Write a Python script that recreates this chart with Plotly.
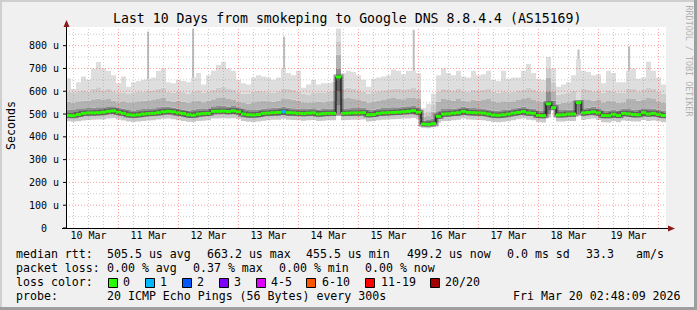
import plotly.graph_objects as go
import pandas as pd

# ---------------------------------------------------------------- data
title_text = "Last 10 Days from smokeping to Google DNS 8.8.4.4 (AS15169)"
start_time = "2026-03-10 03:00"      # first 2-hour consolidation bin
bin_freq = "2h"

# values in microseconds, one per 2-hour bin, 12 bins per row
rtt_max = [
    656, 610, 640, 665, 650, 700, 728, 700, 690, 670, 635, 665,
    620, 640, 645, 650, 655, 660, 690, 700, 640, 635, 650, 645,
    640, 660, 680, 630, 670, 690, 715, 730, 700, 690, 650, 635,
    630, 660, 670, 665, 660, 650, 660, 700, 680, 670, 690, 615,
    630, 650, 630, 635, 635, 640, 875, 680, 690, 685, 670, 650,
    620, 655, 660, 665, 670, 695, 690, 675, 690, 690, 680, 525,
    545, 590, 670, 700, 680, 670, 690, 665, 660, 690, 670, 675,
    690, 650, 645, 690, 655, 660, 660, 690, 720, 680, 655, 650,
    750, 700, 620, 630, 640, 670, 740, 690, 685, 670, 675, 635,
    690, 680, 640, 640, 690, 700, 655, 660, 730, 690, 660, 630,
]
rtt_upper2 = [
    598, 592, 600, 605, 598, 612, 618, 605, 610, 600, 592, 596,
    588, 595, 600, 598, 602, 604, 612, 615, 598, 594, 600, 596,
    590, 598, 605, 592, 600, 608, 615, 620, 610, 606, 596, 590,
    588, 598, 602, 600, 596, 594, 600, 610, 612, 608, 598, 590,
    586, 592, 596, 592, 598, 602, 820, 612, 615, 610, 604, 598,
    590, 596, 600, 604, 608, 612, 610, 606, 612, 614, 608, 505,
    512, 540, 600, 612, 606, 604, 610, 600, 598, 608, 604, 606,
    610, 598, 594, 600, 596, 598, 604, 608, 615, 606, 600, 598,
    700, 640, 585, 590, 594, 602, 560, 610, 606, 600, 604, 594,
    604, 600, 592, 594, 610, 612, 600, 606, 616, 610, 598, 590,
]
rtt_upper3 = [
    555, 550, 556, 560, 558, 565, 568, 562, 566, 560, 552, 556,
    548, 552, 556, 558, 560, 562, 566, 570, 560, 555, 558, 554,
    550, 556, 560, 552, 558, 565, 570, 574, 566, 562, 555, 548,
    546, 552, 556, 558, 556, 555, 560, 566, 568, 564, 558, 552,
    548, 552, 555, 552, 556, 560, 760, 566, 570, 566, 562, 558,
    550, 555, 560, 562, 566, 570, 568, 565, 570, 572, 566, 488,
    492, 510, 555, 566, 562, 560, 566, 558, 556, 564, 560, 562,
    566, 556, 552, 556, 555, 556, 562, 566, 570, 562, 556, 554,
    660, 600, 545, 550, 552, 558, 556, 565, 562, 560, 562, 552,
    560, 556, 550, 552, 566, 568, 558, 562, 570, 566, 556, 548,
]
rtt_upper4 = [
    520, 518, 522, 526, 527, 528, 530, 530, 534, 534, 528, 524,
    518, 516, 518, 522, 524, 526, 530, 533, 532, 528, 524, 520,
    516, 520, 524, 522, 524, 534, 535, 536, 533, 535, 530, 522,
    518, 518, 520, 524, 526, 528, 528, 532, 528, 526, 524, 522,
    524, 526, 520, 522, 524, 524, 700, 524, 526, 527, 527, 528,
    518, 520, 524, 527, 528, 530, 530, 532, 534, 537, 530, 472,
    474, 480, 512, 522, 522, 524, 526, 532, 528, 527, 525, 524,
    520, 516, 515, 518, 520, 525, 528, 532, 526, 524, 516, 515,
    600, 560, 518, 518, 520, 520, 562, 526, 528, 532, 526, 516,
    515, 520, 516, 524, 522, 520, 518, 526, 522, 524, 520, 516,
]
rtt_median = [
    494, 493, 498, 503, 505, 505, 506, 508, 512, 514, 508, 503,
    497, 495, 497, 500, 502, 503, 506, 510, 512, 510, 505, 502,
    497, 495, 500, 502, 503, 512, 512, 513, 511, 514, 510, 500,
    497, 496, 498, 503, 504, 506, 507, 510, 506, 505, 503, 502,
    504, 505, 500, 502, 503, 503, 663, 503, 504, 505, 505, 506,
    497, 498, 503, 505, 506, 507, 508, 510, 512, 515, 508, 456,
    455, 458, 490, 500, 501, 504, 506, 512, 507, 506, 505, 504,
    500, 496, 495, 497, 500, 504, 507, 511, 505, 503, 494, 493,
    545, 528, 496, 497, 500, 500, 550, 505, 507, 510, 505, 494,
    493, 499, 494, 503, 501, 498, 497, 506, 500, 503, 499, 494,
]
rtt_lower1 = [
    484, 483, 486, 490, 492, 492, 493, 494, 498, 499, 494, 490,
    484, 482, 484, 487, 489, 490, 493, 496, 497, 494, 490, 487,
    483, 482, 487, 488, 490, 497, 498, 499, 497, 499, 495, 486,
    483, 482, 484, 488, 490, 492, 492, 496, 492, 491, 490, 488,
    490, 491, 486, 488, 490, 490, 600, 490, 491, 492, 492, 493,
    484, 486, 490, 492, 493, 494, 495, 497, 498, 500, 494, 448,
    447, 450, 478, 486, 487, 490, 492, 497, 493, 492, 491, 490,
    486, 482, 481, 483, 485, 490, 494, 497, 492, 490, 482, 480,
    500, 522, 484, 484, 486, 487, 545, 491, 494, 497, 491, 481,
    480, 485, 481, 489, 487, 484, 484, 491, 487, 489, 485, 481,
]
rtt_min = [
    468, 466, 468, 472, 474, 475, 476, 476, 480, 482, 476, 472,
    467, 465, 467, 470, 472, 473, 476, 479, 480, 477, 473, 470,
    466, 465, 470, 471, 473, 480, 481, 482, 480, 482, 478, 469,
    466, 465, 467, 471, 473, 475, 475, 479, 475, 474, 473, 471,
    473, 474, 469, 471, 473, 473, 540, 473, 474, 475, 475, 476,
    467, 469, 473, 475, 476, 477, 478, 480, 481, 483, 477, 440,
    438, 442, 462, 469, 470, 473, 475, 480, 476, 475, 474, 473,
    469, 465, 464, 466, 468, 473, 477, 480, 475, 473, 465, 463,
    485, 518, 467, 467, 469, 470, 538, 474, 477, 480, 474, 464,
    463, 468, 464, 472, 470, 467, 467, 474, 470, 472, 468, 464,
]
loss_count = [
    0, 0, 0, 0, 0, 0, 0, 0, 0, 0, 0, 0,
    0, 0, 0, 0, 0, 0, 0, 0, 0, 0, 0, 0,
    0, 0, 0, 0, 0, 0, 0, 0, 0, 0, 0, 0,
    0, 0, 0, 0, 0, 0, 0, 1, 0, 0, 0, 0,
    0, 0, 0, 0, 0, 0, 0, 0, 0, 0, 0, 0,
    0, 0, 0, 0, 0, 0, 0, 0, 0, 0, 0, 0,
    0, 0, 0, 0, 0, 0, 0, 0, 0, 0, 0, 0,
    0, 0, 0, 0, 0, 0, 0, 0, 0, 0, 0, 0,
    0, 0, 0, 0, 0, 0, 0, 0, 0, 0, 0, 0,
    0, 0, 0, 0, 0, 0, 0, 0, 0, 0, 0, 0,
]

# isolated single-sample outliers (thin spikes)
spike_times = ["2026-03-11 11:50", "2026-03-12 05:50", "2026-03-13 18:15",
               "2026-03-15 22:05", "2026-03-18 16:00", "2026-03-19 12:15"]
spike_values = [862, 875, 840, 870, 783, 797]

y_tick_values = [0, 100, 200, 300, 400, 500, 600, 700, 800]
y_tick_labels = ["0\u00a0\u00a0", "100 u", "200 u", "300 u", "400 u",
                 "500 u", "600 u", "700 u", "800 u"]

loss_labels = ["0", "1", "2", "3", "4-5", "6-10", "11-19", "20/20"]
loss_colors = ["#26ff00", "#00b8ff", "#0059ff", "#7e00ff",
               "#dd00ff", "#ff5500", "#ff0000", "#a10000"]

stats_rtt = ["505.5 us avg", "663.2 us max", "455.5 us min",
             "499.2 us now", "0.0 ms sd", "33.3", "am/s"]
stats_loss = ["0.00 % avg", "0.37 % max", "0.00 % min", "0.00 % now"]
probe_text = "20 ICMP Echo Pings (56 Bytes) every 300s"
stamp_text = "Fri Mar 20 02:48:09 2026"

# ---------------------------------------------------------------- layout constants
W_PX, H_PX = 697, 310
L, T, PW, PH = 66, 27, 600, 201
Y_MAX = 882
MONO = "DejaVu Sans Mono"


def px(x):
    return (x - L) / PW


def py(y):
    return (T + PH - y) / PH


times = pd.date_range(start_time, periods=len(rtt_median) + 1, freq=bin_freq)


def step(arr):
    return list(arr) + [arr[-1]]


fig = go.Figure()

# spikes (beneath smoke)
sx, sy = [], []
for t, v in zip(spike_times, spike_values):
    sx += [pd.Timestamp(t), pd.Timestamp(t), None]
    sy += [500, v, None]
fig.add_trace(go.Scatter(x=sx, y=sy, mode="lines",
                         line=dict(color="#bdbdbd", width=2),
                         hoverinfo="skip", showlegend=False))

# smoke bands, chained with tonexty
bands = [
    (rtt_min, None, None),
    (rtt_lower1, "tonexty", "#c9c9c9"),
    (rtt_upper4, "tonexty", "#8e8e8e"),
    (rtt_upper3, "tonexty", "#b3b3b3"),
    (rtt_upper2, "tonexty", "#cdcdcd"),
    (rtt_max, "tonexty", "#dedede"),
]
for arr, fill, col in bands:
    kw = dict(fill=fill, fillcolor=col) if fill else {}
    fig.add_trace(go.Scatter(x=times, y=step(arr), mode="lines",
                             line=dict(width=0, shape="hv", color="rgba(0,0,0,0)"),
                             hoverinfo="skip", showlegend=False, **kw))

# median: dark core, thin black step line, loss-coloured segments
fig.add_trace(go.Scatter(x=times, y=step(rtt_median), mode="lines",
                         line=dict(width=5, shape="hv", color="rgba(50,50,50,0.5)"),
                         hoverinfo="skip", showlegend=False))
fig.add_trace(go.Scatter(x=times, y=step(rtt_median), mode="lines",
                         line=dict(width=1, shape="hv", color="#000000"),
                         hoverinfo="skip", showlegend=False))


def loss_index(c):
    if c <= 3:
        return c
    if c <= 5:
        return 4
    if c <= 10:
        return 5
    if c <= 19:
        return 6
    return 7


for li, col in enumerate(loss_colors):
    gx, gy = [], []
    for k, m in enumerate(rtt_median):
        if loss_index(loss_count[k]) == li:
            gx += [times[k], times[k + 1], None]
            gy += [m, m, None]
    if gx:
        fig.add_trace(go.Scatter(x=gx, y=gy, mode="lines",
                                 line=dict(width=3, color=col),
                                 hoverinfo="skip", showlegend=False))

shapes = []
# grid (drawn above the graph, like rrdtool)
grid_minor = "rgba(140,140,140,0.45)"
grid_major = "rgba(255,0,0,0.38)"
for t in pd.date_range("2026-03-10 06:00", "2026-03-20 00:00", freq="6h"):
    col = grid_major if t.hour == 0 else grid_minor
    shapes.append(dict(type="line", xref="x", yref="paper", x0=t, x1=t, y0=0, y1=1,
                       line=dict(color=col, width=1, dash="1px,2px"), layer="above"))
for v in range(50, Y_MAX, 50):
    col = grid_major if v % 100 == 0 else grid_minor
    shapes.append(dict(type="line", xref="paper", yref="y", x0=0, x1=1, y0=v, y1=v,
                       line=dict(color=col, width=1, dash="1px,2px"), layer="above"))

# axes lines and arrows
shapes.append(dict(type="line", xref="paper", yref="paper", x0=px(66.5), x1=px(66.5),
                   y0=py(228), y1=py(24), line=dict(color="#000", width=1), layer="above"))
shapes.append(dict(type="line", xref="paper", yref="paper", x0=px(62), x1=px(670),
                   y0=py(228.5), y1=py(228.5), line=dict(color="#000", width=1), layer="above"))
shapes.append(dict(type="path", xref="paper", yref="paper",
                   path=f"M {px(63.5)} {py(27)} L {px(69.5)} {py(27)} L {px(66.5)} {py(20)} Z",
                   fillcolor="#8b1a1a", line=dict(width=0), layer="above"))
shapes.append(dict(type="path", xref="paper", yref="paper",
                   path=f"M {px(668)} {py(225.5)} L {px(668)} {py(231.5)} L {px(675)} {py(228.5)} Z",
                   fillcolor="#8b1a1a", line=dict(width=0), layer="above"))
# y tick marks
for v in y_tick_values:
    yy = T + PH - v * PH / Y_MAX
    shapes.append(dict(type="line", xref="paper", yref="paper", x0=px(63), x1=px(66.5),
                       y0=py(yy), y1=py(yy), line=dict(color="#000", width=1), layer="above"))

# frame around the whole image
shapes += [
    dict(type="rect", xref="paper", yref="paper", x0=px(0), x1=px(W_PX), y0=py(0), y1=py(2),
         fillcolor="#cfcfcf", line=dict(width=0), layer="below"),
    dict(type="rect", xref="paper", yref="paper", x0=px(0), x1=px(2), y0=py(0), y1=py(H_PX),
         fillcolor="#cfcfcf", line=dict(width=0), layer="below"),
    dict(type="rect", xref="paper", yref="paper", x0=px(0), x1=px(W_PX), y0=py(H_PX - 3), y1=py(H_PX),
         fillcolor="#9e9e9e", line=dict(width=0), layer="below"),
    dict(type="rect", xref="paper", yref="paper", x0=px(W_PX - 3), x1=px(W_PX), y0=py(0), y1=py(H_PX),
         fillcolor="#9e9e9e", line=dict(width=0), layer="below"),
]

# legend colour boxes
box_x = [108.5, 145.5, 182.5, 219.5, 256.5, 306.5, 365.5, 430.5]
lab_x = [123, 160, 196.5, 233.5, 270.5, 321.5, 380.5, 445.5]
for bx, col in zip(box_x, loss_colors):
    shapes.append(dict(type="rect", xref="paper", yref="paper",
                       x0=px(bx), x1=px(bx + 9), y0=py(278.5), y1=py(287.5),
                       fillcolor=col, line=dict(color="#000", width=1), layer="above"))

ann = []
FS = 11.6


def text(x, y, s, size=FS, color="#000", anchor="left", angle=0):
    ann.append(dict(x=px(x), y=py(y), xref="paper", yref="paper", text=s,
                    showarrow=False, xanchor=anchor, yanchor="middle",
                    borderpad=0, borderwidth=0, textangle=angle,
                    font=dict(family=MONO, size=size, color=color)))


text(347, 19, title_text, size=13.2, anchor="center")
text(11, 126, "Seconds", anchor="center", angle=-90)
text(688.5, 61, "RRDTOOL / TOBI OETIKER", size=8.4, color="#b0b0b0", anchor="center", angle=90)

row_y = [254, 268, 282, 296]
text(16, row_y[0], "median rtt:")
for xx, s in zip([107.3, 207.3, 306, 407.3, 507.3, 586, 635.7], stats_rtt):
    text(xx, row_y[0], s)
text(16, row_y[1], "packet loss:")
for xx, s in zip([107.3, 193.3, 279.3, 365], stats_loss):
    text(xx, row_y[1], s)
text(16, row_y[2], "loss color:")
for xx, s in zip(lab_x, loss_labels):
    text(xx, row_y[2], s)
text(16, row_y[3], "probe:")
text(107.3, row_y[3], probe_text)
text(513.3, row_y[3], stamp_text)

fig.update_layout(
    width=W_PX, height=H_PX, autosize=False,
    margin=dict(l=L, r=W_PX - L - PW, t=T, b=H_PX - T - PH, pad=0),
    paper_bgcolor="#f0f0f0", plot_bgcolor="#ffffff",
    showlegend=False, shapes=shapes, annotations=ann,
    xaxis=dict(range=[times[0], times[-1]], type="date", showgrid=False, zeroline=False,
               tick0="2026-03-10", dtick=86400000, ticklabelmode="period",
               tickformat="%d %b", ticks="", showline=False,
               tickfont=dict(family=MONO, size=10, color="#000")),
    yaxis=dict(range=[0, Y_MAX], showgrid=False, zeroline=False, showline=False,
               tickmode="array", tickvals=y_tick_values, ticktext=y_tick_labels,
               ticks="outside", ticklen=4, tickcolor="rgba(0,0,0,0)",
               tickfont=dict(family=MONO, size=10, color="#000")),
)

fig.write_html("out.html")
